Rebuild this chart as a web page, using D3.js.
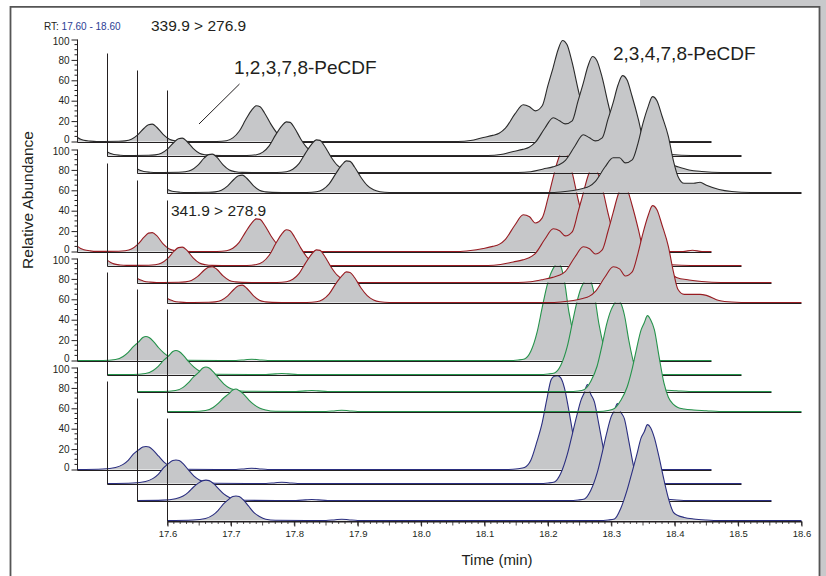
<!DOCTYPE html>
<html><head><meta charset="utf-8">
<script src="https://cdn.jsdelivr.net/npm/d3@7"></script>
<style>
body{margin:0;background:#fff}
svg{display:block}
text{font-family:"Liberation Sans",Arial,Helvetica,sans-serif}
</style>
</head><body>
<svg id="c" width="826" height="576"></svg>
<script>
// ---------------- DATA ----------------
const rtDomain = [17.6, 18.6];
const xTickLabels = ["17.6","17.7","17.8","17.9","18.0","18.1","18.2","18.3","18.4","18.5","18.6"];
const yTickLabels = [0, 20, 40, 60, 80, 100];
const transitions = ["339.9 > 276.9", "341.9 > 278.9"];
const compounds = ["1,2,3,7,8-PeCDF", "2,3,4,7,8-PeCDF"];
const rtRange = ["17.60", "18.60"];

// panel 1 (black) – retention times (min) and relative abundance (%) of 4 stacked traces
const blackRT = [17.600,17.605,17.610,17.620,17.630, 17.665,17.675,17.685,17.695,17.705,
  17.712,17.718,17.725,17.735,17.745, 17.755,17.765,17.78,17.82,17.835,
  17.845,17.855,17.865,17.875,17.882, 17.888,17.895,17.905,17.915,17.925,
  17.935,17.95,18.20,18.22,18.24, 18.255,18.265,18.275,18.29,18.303,
  18.313,18.322,18.333,18.342,18.35, 18.358,18.365,18.372,18.38,18.39,
  18.398,18.405,18.415,18.43,18.44, 18.45,18.47,18.49,18.52,18.60];
const black1 = [4,2.2,1.2,0.4,0, 0.2,0.6,2.2,6.5,13, 16.5,17,14,7,2.2, 0.6,0.1,0,0,0.8,
  3.5,10,21,31,35, 34,28,17,8,3, 0.9,0,0,1,4, 6,8,13,27,36, 34,30,35,55,72, 90,99,95,78,50,
  30,16,10,9,9, 7,3,1,0,0];
const black2 = [3.5,2,1,0.3,0, 0.2,0.6,2.2,6.5,13, 16.5,17,14,7,2.2, 0.6,0.1,0,0,0.8,
  3.3,9.5,20,29,33, 32.5,27,16,7.5,2.8, 0.8,0,0,1,4, 6,8,13,27,37, 34,31,34,53,70, 88,97,93,77,50,
  30,16,10,9,9, 7,3,1,0,0];
const black3 = [3.5,2,1,0.3,0, 0.2,0.7,2.4,7,14, 17.5,18,15,7.5,2.4, 0.7,0.1,0,0,0.8,
  3.2,9,19,28,32, 31.5,26,15.5,7.2,2.7, 0.8,0,0,0.8,3.5, 5.5,7.5,12,26,37, 34,31,34,52,68, 86,95,91,75,52,
  30,15,9,8,8, 6,2.5,1,0,0];
const black4 = [3,1.8,1,0.3,0, 0.2,0.6,2.2,6.5,13, 16.5,17,14,7,2.2, 0.6,0.1,0,0,0.7,
  3,8.5,18,27,31, 30.5,25,15,7,2.6, 0.8,0,0,0.5,2, 4,6,11,25,34, 34,29,32,48,68, 84,94,90,75,55,
  31,16,9,9,10, 7,3,1,0,0];

// panel 2 (red)
const redRT = [17.600,17.605,17.610,17.620,17.630, 17.665,17.675,17.685,17.695,17.705,
  17.712,17.718,17.725,17.735,17.745, 17.755,17.765,17.78,17.82,17.835,
  17.845,17.855,17.865,17.875,17.882, 17.888,17.895,17.905,17.915,17.925,
  17.935,17.95,18.20,18.22,18.24, 18.255,18.265,18.275,18.29,18.303,
  18.313,18.322,18.333,18.342,18.35, 18.358,18.365,18.372,18.38,18.39,
  18.398,18.405,18.415,18.43,18.44, 18.45,18.47,18.49,18.52,18.555, 18.57,18.585,18.60];
const red1 = [5,3,1.8,0.6,0.1, 0.2,0.7,2.4,7,14, 18,18.5,15.5,7.5,2.4, 0.7,0.1,0,0,0.8,
  3.2,9,19,28,32, 31.5,26,15.5,7.2,2.7, 0.8,0,0,1,3, 5,7,12,26,36, 34,28,33,52,72, 90,99,95,78,50,
  30,14,8,8,8, 7,2,0.5,0,0, 1.2,0,0];
const red2 = [5,3,1.6,0.5,0.1, 0.2,0.7,2.4,7,14, 17.5,18,15,7.5,2.4, 0.7,0.1,0,0,0.9,
  3.5,10,21,31,35, 34,28,17,8,3, 0.9,0,0,1,3.5, 5.5,7.5,12,26,36, 34,29,33,52,70, 88,97,93,77,50,
  30,15,9,8,8, 6.5,2.5,0.8,0,0, 0,0,0];
const red3 = [4,2.4,1.3,0.4,0, 0.2,0.6,2,6,12, 15,15.5,13,6.5,2, 0.6,0.1,0,0,0.8,
  3.2,9,19,28,32, 31.5,26,15.5,7.2,2.7, 0.8,0,0,0.8,3, 5,7,11,25,35, 33,28,32,50,68, 86,96,92,76,52,
  30,15,9,8,8, 5,2.5,1,0,0, 0,0,0];
const red4 = [4,2.4,1.3,0.4,0, 0.2,0.6,2.2,6.5,13, 16.5,17,14,7,2.2, 0.6,0.1,0,0,0.7,
  3,8.5,18,26,30, 29.5,24.5,14.5,6.8,2.5, 0.7,0,0,0.5,2, 4,6,11,25,35, 33,26,30,48,68, 85,95,91,76,55,
  30,13,8,8,8, 7,2,0.5,0,0, 0,0,0];

// panel 3 (green) and panel 4 (navy) share one retention-time grid
const lowerRT = [17.600,17.64,17.66,17.672,17.68, 17.688,17.696,17.703,17.708,17.713,
  17.72,17.728,17.736,17.745,17.755, 17.77,17.85,17.865,17.875,17.885,
  17.90,18.28,18.295,18.305,18.315, 18.325,18.333,18.34,18.347,18.352,
  18.357,18.362,18.368,18.375,18.383, 18.39,18.398,18.405,18.415,18.43,
  18.45,18.47,18.60];
const green1 = [0,0,1,4,8, 13.5,18,22.5,23.6,22.5, 18.5,12.5,7.5,3.5,1.5, 0.3,0,0.8,1.2,0.8,
  0,0,0.5,1.5,9, 28,52,72,86,92, 96,93,78,48,25, 13,6,3.5,2.5,1.5, 0.8,0,0];
const green2 = [0,0,1,4,8, 13.5,18,22.5,23.6,22.5, 18.5,12.5,7.5,3.5,1.5, 0.3,0,0.6,1,0.6,
  0,0,0.5,1.5,9, 27,50,70,85,91, 95,92,78,50,27, 14,7,4,2.5,1.5, 0.8,0,0];
const green3 = [0,0,1,4,8.5, 14,18.5,23,24,23, 19,13,7.5,3.5,1.5, 0.3,0,0.6,1,0.6,
  0,0,0.5,2,10, 25,46,66,80,86, 90,87,75,50,27, 14,7,4,2.5,1.5, 0.8,0,0];
const green4 = [0,0,1,4,8, 13,17,21,22,20.5, 17,11.5,7,3.5,1.5, 0.3,0,0.8,1.2,0.8,
  0,0,1,3,11, 24,42,62,80,87, 94,90,80,55,28, 14,7,4,2.5,1.5, 0.8,0,0];
const navy1 = [0,0.5,2,5,9, 15,19,22,22.6,22, 18.5,13,7.5,3.5,1.2, 0.2,0,0.8,1.2,0.8,
  0,0,0.8,2,9, 28,46,68,88,91.5, 92,90,80,58,30, 15,7,4,2.5,1.5, 0.5,0,0];
const navy2 = [0,0.5,2,5,9, 15,19.5,22.5,23,22.5, 19,13,7.5,3.5,1.2, 0.2,0,0.8,1.2,0.8,
  0,0,0.5,1.5,10, 28,48,66,82,89, 97,88,80,58,32, 16,7,4,2.5,1.5, 0.5,0,0];
const navy3 = [0,0.4,1.8,4.5,8, 13,17,19.5,20,19.5, 16.5,11.5,6.5,3,1, 0.2,0,0.6,1,0.6,
  0,0,0.5,1.5,10, 27,47,66,82,88, 95,87,80,58,32, 16,7,4,2.5,1.5, 0.5,0,0];
const navy4 = [0,0.5,2,5.5,10, 16,20.5,23.5,24,23.5, 20,14,8,4,1.3, 0.2,0,0.8,1.2,0.8,
  0,0,0.5,1.5,12, 30,48,64,81,87, 94,91,81,63,40, 22,8,5,3,1.5, 0.5,0,0];

// ---------------- LAYOUT / STYLE ----------------
const panels = [
  {rt: blackRT, traces: [black1, black2, black3, black4], color: "#2a2a2a"},
  {rt: redRT,   traces: [red1, red2, red3, red4],         color: "#981c22"},
  {rt: lowerRT, traces: [green1, green2, green3, green4], color: "#25934b"},
  {rt: lowerRT, traces: [navy1, navy2, navy3, navy4],     color: "#2a2e80"}
];
const FILL = "#c6c7c9";
const AXIS = "#231f20";
const X0 = 77.5, W = 634, H = 102;
const panelBase = [141.5, 251.5, 360.5, 469.5];
const traceDX = [0, 30, 60, 90];
const traceDY = [0, 14, 31, 51];

const svg = d3.select("#c");

// page background pieces and frame
svg.append("rect").attr("x", 640).attr("y", 0).attr("width", 186).attr("height", 7).attr("fill", "#c8c9cb");
svg.append("rect").attr("x", 820).attr("y", 0).attr("width", 6).attr("height", 576).attr("fill", "#c8c9cb");
svg.append("path").attr("d", "M10.5,580V6.8H819.5V580").attr("fill", "none")
  .attr("stroke", "#555").attr("stroke-width", 1.8);

const plot = svg.append("g");
let lastX, lastBase;

for (let t = 0; t < 4; t++) {
  for (let p = 0; p < 4; p++) {
    const P = panels[p];
    const base = panelBase[p] + traceDY[t];
    const x0 = X0 + traceDX[t];
    const xs = d3.scaleLinear().domain(rtDomain).range([x0, x0 + W]);
    const ys = d3.scaleLinear().domain([0, 100]).range([base, base - H]);
    const data = P.rt.map((r, i) => [r, P.traces[t][i]]);
    const g = plot.append("g");

    g.append("path").datum(data)
      .attr("d", d3.area().x(d => xs(d[0])).y0(base).y1(d => ys(d[1])).curve(d3.curveMonotoneX))
      .attr("fill", FILL);

    // baseline (time axis of this trace)
    g.append("line").attr("x1", x0).attr("x2", x0 + W).attr("y1", base + 1).attr("y2", base + 1)
      .attr("stroke", AXIS).attr("stroke-width", 1);

    g.append("path").datum(data)
      .attr("d", d3.line().x(d => xs(d[0])).y(d => ys(d[1])).curve(d3.curveMonotoneX))
      .attr("fill", "none").attr("stroke", P.color).attr("stroke-width", 1.1);

    if (t === 0) {
      const minor = d3.range(0, 101, 5).filter(v => v % 20 !== 0);
      g.selectAll(".mt").data(minor).enter().append("line")
        .attr("x1", X0 - 3).attr("x2", X0).attr("y1", d => ys(d)).attr("y2", d => ys(d))
        .attr("stroke", AXIS).attr("stroke-width", 1);
      const ax = g.append("g").attr("transform", `translate(${X0},0)`)
        .call(d3.axisLeft(ys).tickValues(yTickLabels).tickSize(6).tickSizeOuter(0).tickPadding(2));
      ax.select(".domain").attr("stroke", AXIS).attr("d", `M0,${base + 1}V${base - H}`);
      ax.selectAll(".tick line").attr("stroke", AXIS);
      ax.selectAll("text").attr("font-family", "Liberation Sans, Arial, sans-serif")
        .attr("font-size", 10).attr("fill", "#231f20")
        .attr("dy", d => d === 0 ? "0.1em" : (d === 100 ? "0.45em" : "0.32em"));
    } else {
      g.append("line").attr("x1", x0).attr("x2", x0).attr("y1", base + 1).attr("y2", base - H)
        .attr("stroke", AXIS).attr("stroke-width", 1);
    }
    if (t === 3 && p === 3) { lastX = xs; lastBase = base; }
  }
}

// bottom time axis
const xAxisG = svg.append("g").attr("transform", `translate(0,${lastBase + 1})`);
const minorX = d3.range(0, 101).map(i => 17.6 + i * 0.01);
xAxisG.selectAll(".mx").data(minorX).enter().append("line")
  .attr("x1", d => lastX(d)).attr("x2", d => lastX(d)).attr("y1", 0)
  .attr("y2", (d, i) => (i % 5 === 0 ? 4 : 2.5))
  .attr("stroke", AXIS).attr("stroke-width", 0.8);
const xa = xAxisG.call(d3.axisBottom(lastX).tickValues(xTickLabels.map(Number))
  .tickFormat((d, i) => xTickLabels[i]).tickSize(5).tickSizeOuter(0).tickPadding(4));
xa.select(".domain").attr("stroke", AXIS);
xa.selectAll(".tick line").attr("stroke", AXIS);
xa.selectAll("text").attr("font-family", "Liberation Sans, Arial, sans-serif").attr("font-size", 9.5).attr("fill", "#231f20");

// titles and annotations
svg.append("text").attr("x", 44).attr("y", 30).attr("font-size", 10).attr("fill", "#231f20")
  .text("RT: ").append("tspan").attr("fill", "#2c3e94").text(`${rtRange[0]} - ${rtRange[1]}`);
svg.append("text").attr("x", 151).attr("y", 31).attr("font-size", 15.5).attr("fill", "#231f20").text(transitions[0]);
svg.append("text").attr("x", 171).attr("y", 216).attr("font-size", 15.5).attr("fill", "#231f20").text(transitions[1]);
svg.append("text").attr("x", 234).attr("y", 74).attr("font-size", 19).attr("fill", "#231f20").text(compounds[0]);
svg.append("text").attr("x", 613).attr("y", 60).attr("font-size", 19).attr("fill", "#231f20").text(compounds[1]);
svg.append("line").attr("x1", 239.5).attr("y1", 84).attr("x2", 199).attr("y2", 124)
  .attr("stroke", "#231f20").attr("stroke-width", 1);

svg.append("text").attr("x", 497).attr("y", 565).attr("text-anchor", "middle")
  .attr("font-size", 15).attr("fill", "#231f20").text("Time (min)");
svg.append("text").attr("transform", "translate(33,200) rotate(-90)").attr("text-anchor", "middle")
  .attr("font-size", 15.5).attr("fill", "#231f20").text("Relative Abundance");
</script>
</body></html>
